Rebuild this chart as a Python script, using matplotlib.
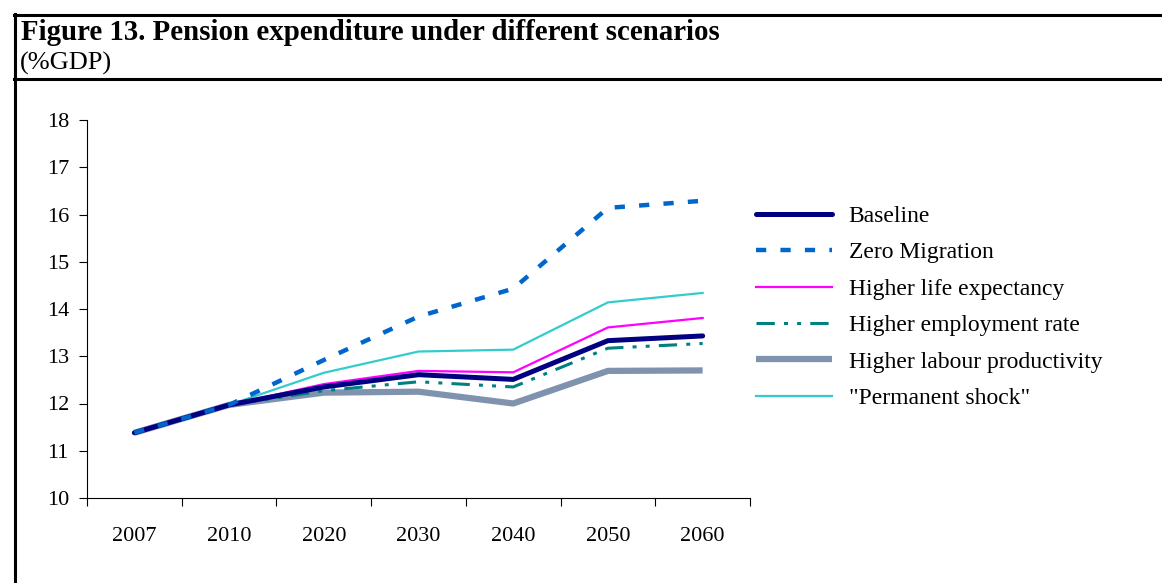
import numpy as np
import matplotlib
matplotlib.use("Agg")
import matplotlib.pyplot as plt
from matplotlib.lines import Line2D

plt.rcParams['font.family'] = ['Liberation Serif', 'DejaVu Serif']

years = ['2007', '2010', '2020', '2030', '2040', '2050', '2060']

baseline = [11.38, 11.97, 12.35, 12.61, 12.51, 13.33, 13.43]
zero_migration = [11.38, 11.97, 12.92, 13.84, 14.43, 16.14, 16.29]
life_expectancy = [11.38, 11.97, 12.41, 12.69, 12.66, 13.61, 13.81]
employment_rate = [11.38, 11.97, 12.27, 12.46, 12.35, 13.17, 13.27]
labour_productivity = [11.38, 11.97, 12.23, 12.25, 12.00, 12.69, 12.70]
permanent_shock = [11.38, 11.97, 12.65, 13.10, 13.14, 14.14, 14.34]

W, H = 1162, 583
fig = plt.figure(figsize=(W / 100, H / 100), dpi=100)
ax = fig.add_axes([87 / W, 1 - 498 / H, (750 - 87) / W, (498 - 120) / H])

x = np.arange(len(years))

ax.plot(x, labour_productivity, color='#7F93AE', lw=4.5, solid_capstyle='butt',
        label='Higher labour productivity', zorder=2)
ax.plot(x, permanent_shock, color='#33CCCC', lw=1.6,
        label='"Permanent shock"', zorder=3)
ax.plot(x, life_expectancy, color='#FF00FF', lw=1.6,
        label='Higher life expectancy', zorder=4)
ax.plot(x, employment_rate, color='#008080', lw=2.2,
        dashes=(6, 3, 1.3, 3, 1.3, 3), label='Higher employment rate', zorder=5)
ax.plot(x, baseline, color='#000080', lw=3.6, solid_capstyle='round',
        label='Baseline', zorder=6)
ax.plot(x, zero_migration, color='#0066CC', lw=3.2, dashes=(2.3, 3.2),
        label='Zero Migration', zorder=7)

ax.set_xlim(-0.5, len(years) - 0.5)
ax.set_ylim(10, 18)
ax.set_yticks(range(10, 19))
ax.set_xticks(np.arange(-0.5, len(years), 1.0))
ax.set_xticklabels([])
ax.set_xticks(x, minor=True)
ax.set_xticklabels(years, minor=True)
ax.tick_params(axis='x', which='major', direction='out', length=6, width=0.8)
ax.tick_params(axis='x', which='minor', length=0, pad=21, labelsize=16)
ax.tick_params(axis='y', direction='out', length=6, width=0.8, pad=7, labelsize=16)
for s in ['top', 'right']:
    ax.spines[s].set_visible(False)
for s in ['left', 'bottom']:
    ax.spines[s].set_linewidth(0.8)

# legend in the order of the original
handles, labels = ax.get_legend_handles_labels()
order = ['Baseline', 'Zero Migration', 'Higher life expectancy',
         'Higher employment rate', 'Higher labour productivity', '"Permanent shock"']
hmap = dict(zip(labels, handles))
fig.legend([hmap[o] for o in order], order, loc='upper left',
           bbox_to_anchor=(747 / W, 1 - 196 / H), frameon=False, fontsize=17,
           handlelength=3.2, handletextpad=0.7, labelspacing=0.63, borderaxespad=0)

fig.text(21 / W, 1 - 32 / H, 'Figure 13. Pension expenditure under different scenarios',
         fontsize=20.8, fontweight='bold', va='center', ha='left')
fig.text(20 / W, 1 - 63 / H, '(%GDP)', fontsize=19, va='center', ha='left')

# frame lines
fig.add_artist(Line2D([14 / W, 1], [1 - 15 / H, 1 - 15 / H], color='black', lw=2.2))
fig.add_artist(Line2D([14 / W, 1], [1 - 79 / H, 1 - 79 / H], color='black', lw=2.2))
fig.add_artist(Line2D([15 / W, 15 / W], [0, 1 - 14 / H], color='black', lw=2.2))

fig.savefig('out.png', dpi=100)
